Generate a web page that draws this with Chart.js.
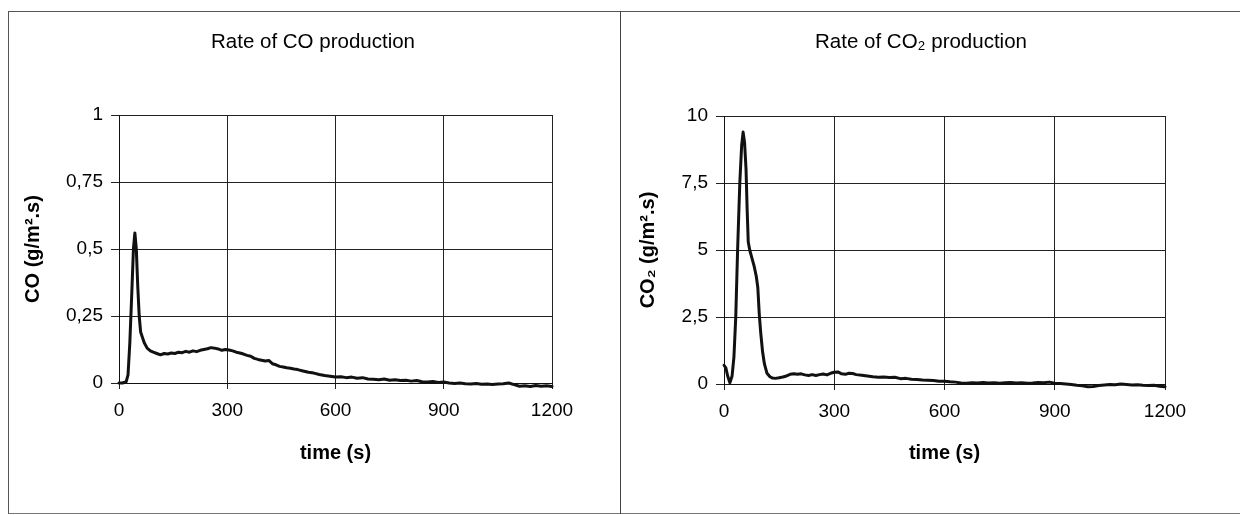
<!DOCTYPE html>
<html>
<head>
<meta charset="utf-8">
<script src="https://cdn.jsdelivr.net/npm/chart.js@4.4.1/dist/chart.umd.min.js"></script>
<style>
  html, body { margin: 0; padding: 0; background: #fff; }
  body { width: 1240px; height: 515px; position: relative; overflow: hidden; }
  .frame { position: absolute; left: 8px; top: 11px; width: 1240px; height: 501px;
           border-top: 1px solid #555; border-left: 1px solid #555; border-bottom: 1px solid #777; }
  .divider { position: absolute; left: 620px; top: 11px; width: 1px; height: 503px; background: #444; }
  canvas { position: absolute; }
</style>
</head>
<body>
<div class="frame"></div>
<div class="divider"></div>
<canvas id="c1" width="611" height="500" style="left:9px;top:12px;width:611px;height:500px"></canvas>
<canvas id="c2" width="619" height="500" style="left:621px;top:12px;width:619px;height:500px"></canvas>
<script>
// ---------- data ----------
const coTime = [0,10,20,25,30,35,40,44,48,52,56,60,65,70,78,87,95,105,115,125,135,145,155,165,175,185,195,205,215,225,235,245,255,265,275,285,295,305,315,325,335,345,355,365,375,385,395,405,415,425,435,445,455,465,475,485,495,510,525,540,555,570,585,600,615,630,645,660,675,690,705,720,735,750,765,780,795,810,825,840,855,870,885,900,915,930,945,960,975,990,1005,1020,1035,1050,1065,1080,1095,1110,1125,1140,1155,1170,1185,1200];
const coRate = [0,0,0.005,0.03,0.15,0.32,0.5,0.56,0.5,0.36,0.25,0.19,0.17,0.15,0.13,0.12,0.115,0.11,0.105,0.11,0.108,0.112,0.11,0.115,0.113,0.118,0.115,0.12,0.117,0.122,0.125,0.128,0.132,0.13,0.127,0.122,0.125,0.123,0.12,0.115,0.112,0.108,0.103,0.1,0.092,0.088,0.085,0.082,0.084,0.072,0.068,0.062,0.06,0.057,0.055,0.052,0.05,0.045,0.04,0.037,0.032,0.028,0.025,0.022,0.023,0.02,0.022,0.018,0.02,0.015,0.014,0.012,0.015,0.01,0.012,0.009,0.01,0.007,0.009,0.005,0.004,0.006,0.002,0.004,0,-0.002,0,-0.003,-0.004,-0.002,-0.005,-0.004,-0.006,-0.004,-0.003,0,-0.006,-0.012,-0.01,-0.013,-0.009,-0.012,-0.01,-0.013];

const co2Time = [0,5,10,16,22,27,32,37,43,48,52,56,60,63,66,70,76,82,88,92,96,100,105,110,117,125,132,140,150,160,170,180,190,200,210,220,230,240,250,260,270,280,290,300,310,320,330,340,350,360,375,390,405,420,435,450,465,480,495,510,525,540,555,570,585,600,615,630,645,660,675,690,705,720,735,750,765,780,795,810,825,840,855,870,885,900,915,930,945,960,975,990,1005,1020,1035,1050,1065,1080,1095,1110,1125,1140,1155,1170,1185,1200];
const co2Rate = [0.7,0.6,0.3,0.05,0.3,1.0,2.5,5.0,7.5,8.9,9.4,9.0,8.0,6.5,5.3,5.0,4.7,4.4,4.0,3.6,2.6,1.9,1.2,0.75,0.4,0.27,0.22,0.21,0.23,0.26,0.3,0.36,0.38,0.36,0.38,0.34,0.32,0.35,0.32,0.35,0.37,0.34,0.4,0.44,0.45,0.38,0.36,0.4,0.39,0.35,0.33,0.3,0.27,0.25,0.26,0.24,0.25,0.2,0.21,0.18,0.17,0.15,0.14,0.13,0.1,0.1,0.08,0.07,0.04,0.03,0.05,0.04,0.06,0.04,0.05,0.03,0.05,0.06,0.04,0.05,0.03,0.04,0.06,0.05,0.07,0.03,0.02,0,-0.02,-0.05,-0.07,-0.1,-0.09,-0.06,-0.04,-0.02,-0.03,0,-0.02,-0.04,-0.03,-0.05,-0.06,-0.05,-0.08,-0.1];

const xTicks = [0, 300, 600, 900, 1200];
const coTicks = [0, 0.25, 0.5, 0.75, 1];
const co2Ticks = [0, 2.5, 5, 7.5, 10];

const titles = ['Rate of CO production', 'Rate of CO\u2082 production'];
const yTitles = ['CO (g/m\u00B2.s)', 'CO\u2082 (g/m\u00B2.s)'];
const xTitle = 'time (s)';

// ---------- chart builder ----------
const FONT = '"Liberation Sans", Arial, Helvetica, sans-serif';
Chart.defaults.font.family = FONT;
Chart.defaults.color = '#000';

function comma(v) { return String(v).replace('.', ','); }

function build(id, xs, ys, yTickVals, title, yTitle, L) {
  const pts = xs.map((x, i) => ({ x: x, y: ys[i] }));
  return new Chart(document.getElementById(id), {
    type: 'line',
    data: { datasets: [{ data: pts, borderColor: '#111', borderWidth: 3, pointRadius: 0,
                         borderJoinStyle: 'round', borderCapStyle: 'round',
                         tension: 0, fill: false, clip: 8 }] },
    options: {
      responsive: false, animation: false, devicePixelRatio: 1,
      layout: { padding: { left: L.padL, right: L.padR, top: 0, bottom: 0 } },
      plugins: {
        legend: { display: false }, tooltip: { enabled: false },
        title: { display: true, text: title, color: '#000',
                 font: { size: 20.5, weight: 'normal', family: FONT },
                 padding: { top: L.tTop, bottom: L.tBot } }
      },
      scales: {
        x: {
          type: 'linear', min: xTicks[0], max: xTicks[xTicks.length - 1],
          afterBuildTicks: s => { s.ticks = xTicks.map(v => ({ value: v })); },
          afterFit: s => { s.height = L.xH; },
          ticks: { font: { size: 19 }, color: '#000', padding: 10, maxRotation: 0, callback: comma },
          grid: { color: '#222', lineWidth: 1, tickLength: 6, tickColor: '#222' },
          border: { display: true, color: '#111', width: 1 },
          title: { display: true, text: xTitle, color: '#000',
                   font: { size: 20, weight: 'bold' }, padding: { top: 0, bottom: 47 } }
        },
        y: {
          type: 'linear', min: yTickVals[0], max: yTickVals[yTickVals.length - 1],
          afterBuildTicks: s => { s.ticks = yTickVals.map(v => ({ value: v })); },
          afterFit: s => { s.width = L.yW; },
          ticks: { font: { size: 19 }, color: '#000', padding: 8, callback: comma },
          grid: { color: '#222', lineWidth: 1, tickLength: 8, tickColor: '#222' },
          border: { display: true, color: '#111', width: 1 },
          title: { display: true, text: yTitle, color: '#000',
                   font: { size: 20, weight: 'bold' }, padding: { top: L.yTitlePad, bottom: 0 } }
        },
        spacer: {
          type: 'linear', position: 'right', display: true,
          afterFit: s => { s.width = L.rW; },
          ticks: { display: false }, grid: { display: false }, border: { display: false },
          title: { display: false }
        }
      }
    }
  });
}

build('c1', coTime, coRate, coTicks, titles[0], yTitles[0],
      { padL: 46, padR: 49, rW: 19, yW: 64, xH: 129, tTop: 17.7, tBot: 60.7, yTitlePad: -34 });
build('c2', co2Time, co2Rate, co2Ticks, titles[1], yTitles[1],
      { padL: 39, padR: 58, rW: 17, yW: 64, xH: 128, tTop: 17.7, tBot: 61.7, yTitlePad: -24 });
</script>
</body>
</html>
